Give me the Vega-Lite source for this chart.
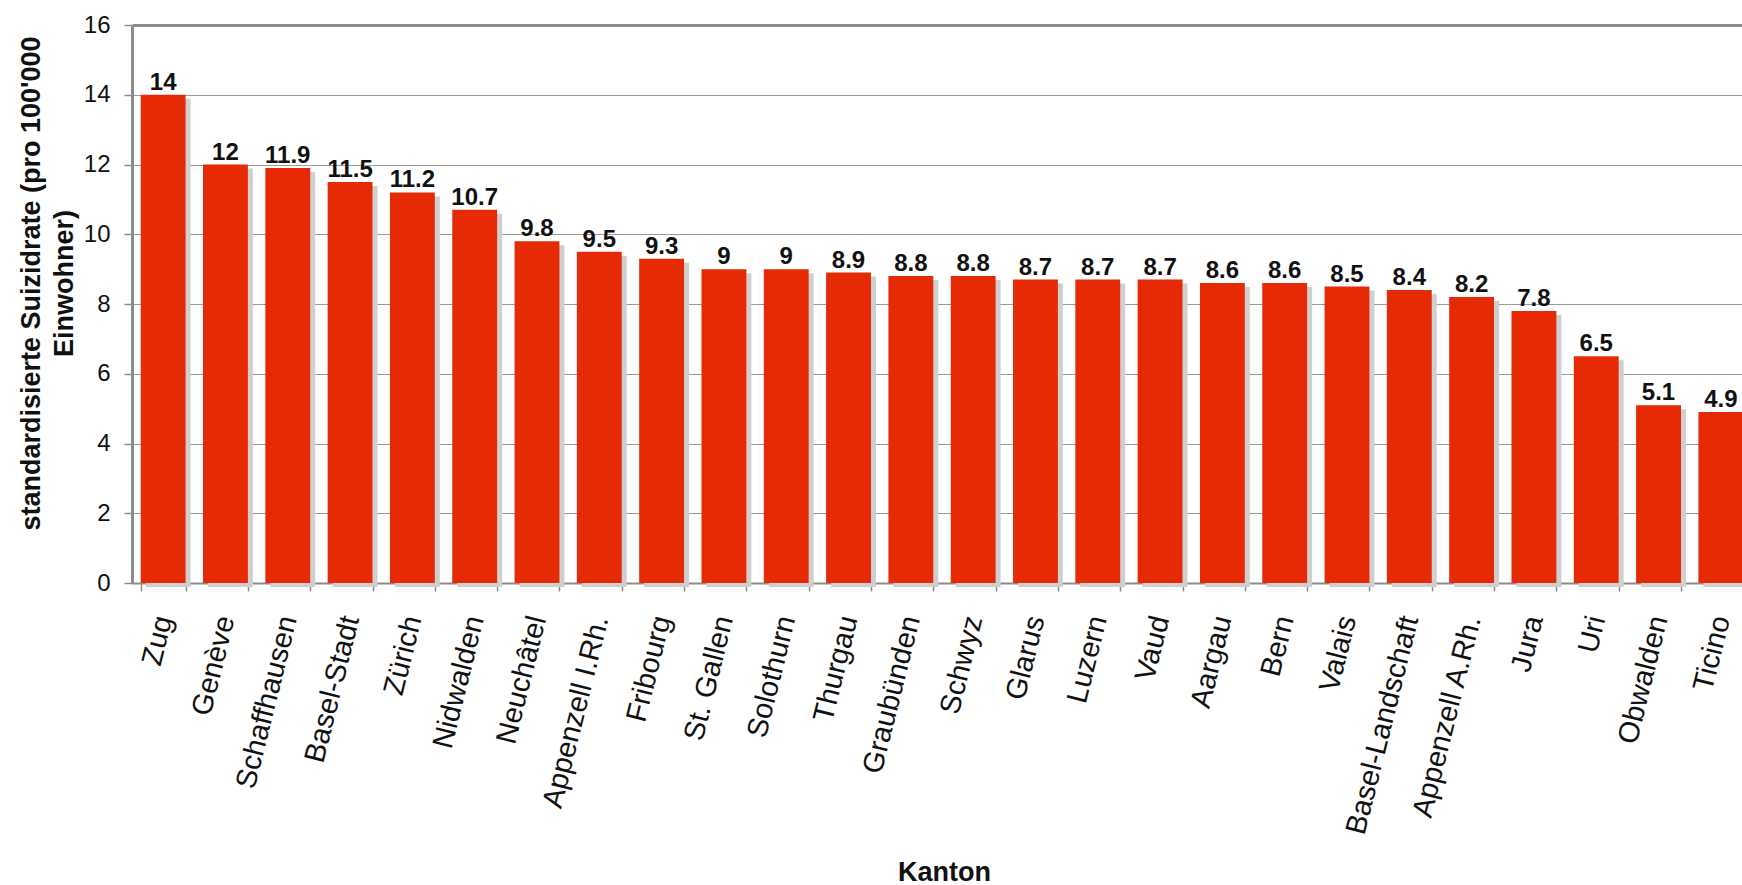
{
  "$schema": "https://vega.github.io/schema/vega-lite/v6.json",
  "autosize": {"type": "none"},
  "padding": {"left": 132, "top": 25, "right": 0, "bottom": 302},
  "width": 1610,
  "height": 558,
  "background": "white",
  "config": {"view": {"stroke": null}, "font": "Liberation Sans"},
  "data": {
    "values": [
      {"Kanton": "Zug", "rate": 14},
      {"Kanton": "Genève", "rate": 12},
      {"Kanton": "Schaffhausen", "rate": 11.9},
      {"Kanton": "Basel-Stadt", "rate": 11.5},
      {"Kanton": "Zürich", "rate": 11.2},
      {"Kanton": "Nidwalden", "rate": 10.7},
      {"Kanton": "Neuchâtel", "rate": 9.8},
      {"Kanton": "Appenzell I.Rh.", "rate": 9.5},
      {"Kanton": "Fribourg", "rate": 9.3},
      {"Kanton": "St. Gallen", "rate": 9},
      {"Kanton": "Solothurn", "rate": 9},
      {"Kanton": "Thurgau", "rate": 8.9},
      {"Kanton": "Graubünden", "rate": 8.8},
      {"Kanton": "Schwyz", "rate": 8.8},
      {"Kanton": "Glarus", "rate": 8.7},
      {"Kanton": "Luzern", "rate": 8.7},
      {"Kanton": "Vaud", "rate": 8.7},
      {"Kanton": "Aargau", "rate": 8.6},
      {"Kanton": "Bern", "rate": 8.6},
      {"Kanton": "Valais", "rate": 8.5},
      {"Kanton": "Basel-Landschaft", "rate": 8.4},
      {"Kanton": "Appenzell A.Rh.", "rate": 8.2},
      {"Kanton": "Jura", "rate": 7.8},
      {"Kanton": "Uri", "rate": 6.5},
      {"Kanton": "Obwalden", "rate": 5.1},
      {"Kanton": "Ticino", "rate": 4.9}
    ]
  },
  "encoding": {
    "x": {
      "field": "Kanton",
      "type": "nominal",
      "sort": null,
      "scale": {"paddingInner": 0.28, "paddingOuter": 0.14, "range": [0, 1620]},
      "axis": {
        "title": "Kanton",
        "titleFontSize": 27,
        "titleFontWeight": "bold",
        "titleColor": "#111111",
        "titleX": 812,
        "titleY": 289,
        "titleBaseline": "middle",
        "titleAlign": "center",
        "labelAngle": -76,
        "labelFontSize": 29,
        "labelColor": "#111111",
        "labelPadding": 25,
        "labelOverlap": false,
        "labelLimit": 0,
        "tickBand": "extent",
        "tickSize": 8,
        "tickColor": "#8c8c8c",
        "tickWidth": 1.5,
        "domainColor": "#8c8c8c",
        "domainWidth": 2
      }
    },
    "y": {
      "field": "rate",
      "type": "quantitative",
      "scale": {"domain": [0, 16], "nice": false},
      "axis": {
        "title": ["standardisierte Suizidrate (pro 100'000", "Einwohner)"],
        "titleFontSize": 27,
        "titleFontWeight": "bold",
        "titleColor": "#111111",
        "titleAngle": -90,
        "titleAlign": "center",
        "titleBaseline": "middle",
        "titleLineHeight": 33,
        "titleX": -101,
        "titleY": 258,
        "values": [0, 2, 4, 6, 8, 10, 12, 14, 16],
        "labelFontSize": 24,
        "labelColor": "#111111",
        "labelPadding": 14,
        "tickSize": 8,
        "tickColor": "#8c8c8c",
        "tickWidth": 1.5,
        "domainColor": "#8c8c8c",
        "domainWidth": 3,
        "grid": true,
        "gridColor": {"condition": {"test": "datum.value === 16", "value": "#8c8c8c"}, "value": "#9a9a9a"},
        "gridWidth": {"condition": {"test": "datum.value === 16", "value": 3}, "value": 1}
      }
    }
  },
  "layer": [
    {"mark": {"type": "bar", "color": "#cfcfcf", "xOffset": 5, "yOffset": 4, "y2Offset": 0}},
    {"mark": {"type": "bar", "color": "#e52a05"}},
    {
      "mark": {"type": "text", "baseline": "alphabetic", "dy": -5, "fontWeight": "bold", "fontSize": 24, "font": "'Liberation Sans Narrow', 'Liberation Sans', sans-serif", "color": "#111111"},
      "encoding": {"text": {"field": "rate", "type": "quantitative"}}
    }
  ]
}
